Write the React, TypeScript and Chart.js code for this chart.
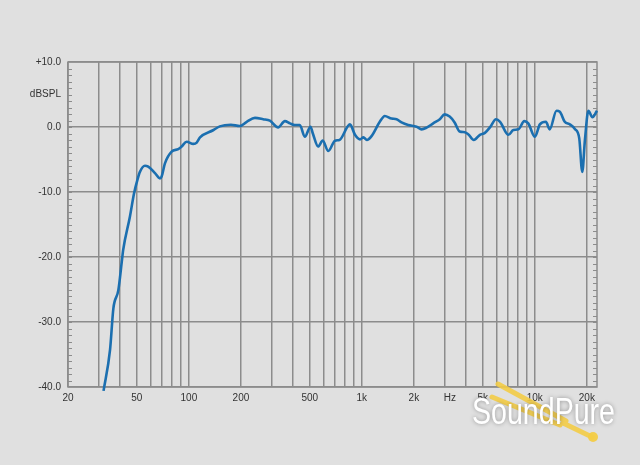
import React, { useEffect, useRef } from "react";
import { Chart, registerables } from "chart.js";

Chart.register(...registerables);

// Frequency response (Hz) and level (dB SPL)
const freqHz = [
  32.1, 35.0, 36.6, 39.1, 40.9, 41.7, 45.6, 48.2, 50.3, 52.1, 55.7, 58.2, 63.7, 68.0, 69.6, 72.7,
  79.5, 86.8, 90.8, 97.1, 106, 111, 116, 138, 151, 175, 197, 216, 241, 269, 294, 328, 359, 384,
  410, 438, 468, 505, 521, 559, 594, 640, 700, 742, 854, 913, 976, 1022, 1069, 1138, 1270, 1358,
  1485, 1589, 1697, 1854, 2072, 2216, 2369, 2586, 2826, 3012, 3220, 3440, 3680, 3940, 4120, 4440,
  4820, 5150, 5510, 5970, 6300, 7040, 7520, 8040, 8700, 9170, 10020, 10700, 11600, 12200, 13360,
  13960, 14900, 15950, 17060, 18080, 18820, 19500, 20420, 21540, 22900,
];
const levelDb = [
  -40.6, -34.3, -27.9, -25.1, -20.8, -18.9, -13.8, -10.2, -8.2, -6.9, -5.95, -6.1, -7.1, -7.9, -7.6, -5.6,
  -3.8, -3.4, -3.0, -2.26, -2.6, -2.4, -1.6, -0.5, 0.1, 0.35, 0.15, 0.8, 1.4, 1.2, 0.97, -0.05, 0.9, 0.56,
  0.3, 0.3, -1.5, 0.05, -1.0, -3.0, -2.1, -3.7, -2.1, -2.0, 0.4, -1.2, -1.9, -1.6, -2.0, -1.4, 0.8, 1.7,
  1.3, 1.2, 0.7, 0.3, 0.05, -0.36, -0.1, 0.56, 1.2, 1.95, 1.6, 0.7, -0.7, -0.8, -1.1, -2.0,
  -1.2, -0.9, -0.05, 1.2, 0.8, -1.2, -0.46, -0.36, 0.9, 0.56, -1.5, 0.4, 0.8, -0.36, 2.5,
  2.36, 0.8, 0.4, -0.3, -1.75, -6.9, -2.0, 2.5, 1.5, 2.5,
];

const X_MIN = 20;
const X_MAX = 22900;
const xGridValues = [
  20, 30, 40, 50, 60, 70, 80, 90, 100, 200, 300, 400, 500, 600, 700, 800, 900,
  1000, 2000, 3000, 4000, 5000, 6000, 7000, 8000, 9000, 10000, 20000,
];
const xLabels: Record<number, string> = {
  20: "20", 50: "50", 100: "100", 200: "200", 500: "500",
  1000: "1k", 2000: "2k", 5000: "5k", 10000: "10k", 20000: "20k",
};
const UNIT_POS = 3230;
const UNIT_LABEL = "Hz";

const Y_MIN = -40;
const Y_MAX = 10;
const yTickValues = [-40, -35, -30, -25, -20, -15, -10, -5, 0, 5, 10];
const yLabels: Record<number, string> = {
  10: "+10.0", 5: "dBSPL", 0: "0.0", [-10]: "-10.0", [-20]: "-20.0", [-30]: "-30.0", [-40]: "-40.0",
};

const BG = "#e0e0e0";
const GRID = "#8c8c8c";
const LINE = "#1b6fb0";
const TEXT = "#333333";

const framePlugin = {
  id: "frame",
  beforeDraw(chart: any) {
    const { ctx, width, height } = chart;
    ctx.save();
    ctx.fillStyle = BG;
    ctx.fillRect(0, 0, width, height);
    ctx.restore();
  },
  beforeDatasetsDraw(chart: any) {
    const { ctx, chartArea: a, scales } = chart;
    const y = scales.y;
    ctx.save();
    ctx.strokeStyle = GRID;
    ctx.lineWidth = 1.5;
    ctx.strokeRect(a.left, a.top, a.right - a.left, a.bottom - a.top);
    ctx.lineWidth = 1;
    for (let v = Y_MIN + 1; v < Y_MAX; v++) {
      const py = Math.round(y.getPixelForValue(v)) + 0.5;
      ctx.beginPath();
      ctx.moveTo(a.left, py);
      ctx.lineTo(a.left + 4, py);
      ctx.moveTo(a.right - 4, py);
      ctx.lineTo(a.right, py);
      ctx.stroke();
    }
    ctx.restore();
  },
  afterDraw(chart: any) {
    const { ctx } = chart;
    ctx.save();
    // watermark: tuning fork
    ctx.strokeStyle = "rgba(243,204,70,0.9)";
    ctx.lineCap = "round";
    ctx.lineJoin = "round";
    ctx.lineWidth = 5;
    ctx.beginPath();
    ctx.moveTo(498, 384);
    ctx.lineTo(566, 421);
    ctx.moveTo(492, 397);
    ctx.lineTo(560, 425);
    ctx.moveTo(563, 423);
    ctx.lineTo(592, 437);
    ctx.stroke();
    ctx.fillStyle = "rgba(243,204,70,0.95)";
    ctx.beginPath();
    ctx.arc(593, 437, 5, 0, Math.PI * 2);
    ctx.fill();
    // watermark text
    ctx.font = "36px 'Liberation Sans', Arial, sans-serif";
    const w = ctx.measureText("SoundPure").width;
    ctx.translate(472, 424);
    ctx.scale(143 / w, 1);
    ctx.shadowColor = "rgba(0,0,0,0.35)";
    ctx.shadowBlur = 4;
    ctx.fillStyle = "#ffffff";
    ctx.textBaseline = "alphabetic";
    ctx.fillText("SoundPure", 0, 0);
    ctx.restore();
  },
};

export default function App() {
  const ref = useRef<HTMLCanvasElement | null>(null);

  useEffect(() => {
    document.body.style.margin = "0";
    document.body.style.background = BG;
    const canvas = ref.current;
    if (!canvas) return;
    const points = freqHz.map((f, i) => ({ x: f, y: levelDb[i] }));
    const chart = new Chart(canvas, {
      type: "line",
      data: {
        datasets: [
          {
            data: points,
            borderColor: LINE,
            borderWidth: 2.6,
            pointRadius: 0,
            cubicInterpolationMode: "monotone",
            fill: false,
            clip: 6,
          } as any,
        ],
      },
      options: {
        responsive: false,
        maintainAspectRatio: false,
        devicePixelRatio: 1,
        animation: false,
        layout: { padding: { top: 62, right: 43, left: 0, bottom: 0 } },
        plugins: { legend: { display: false }, tooltip: { enabled: false } },
        scales: {
          x: {
            type: "logarithmic",
            min: X_MIN,
            max: X_MAX,
            afterBuildTicks: (scale: any) => {
              const vals = [...xGridValues, UNIT_POS].sort((a, b) => a - b);
              scale.ticks = vals.map((v) => ({ value: v }));
            },
            afterFit: (scale: any) => {
              scale.height = 78;
            },
            grid: {
              color: (c: any) => (c.tick && c.tick.value === UNIT_POS ? "rgba(0,0,0,0)" : GRID),
              lineWidth: 1.5,
              drawTicks: false,
            },
            border: { display: false },
            ticks: {
              autoSkip: false,
              maxRotation: 0,
              padding: 5,
              color: TEXT,
              font: { family: "'Liberation Sans', Arial, sans-serif", size: 10 },
              callback: (v: any) => (v === UNIT_POS ? UNIT_LABEL : xLabels[v as number] ?? ""),
            },
          },
          y: {
            type: "linear",
            min: Y_MIN,
            max: Y_MAX,
            afterBuildTicks: (scale: any) => {
              scale.ticks = yTickValues.map((v) => ({ value: v }));
            },
            afterFit: (scale: any) => {
              scale.width = 68;
            },
            grid: {
              color: (c: any) => (c.tick && c.tick.value % 10 === 0 ? GRID : "rgba(0,0,0,0)"),
              lineWidth: 1.5,
              drawTicks: false,
            },
            border: { display: false },
            ticks: {
              padding: 7,
              color: TEXT,
              font: { family: "'Liberation Sans', Arial, sans-serif", size: 10 },
              callback: (v: any) => yLabels[v as number] ?? "",
            },
          },
        },
      },
      plugins: [framePlugin],
    });
    return () => chart.destroy();
  }, []);

  return (
    <div style={{ position: "absolute", left: 0, top: 0, width: 640, height: 465, background: BG }}>
      <canvas ref={ref} width={640} height={465} style={{ display: "block" }} />
    </div>
  );
}
